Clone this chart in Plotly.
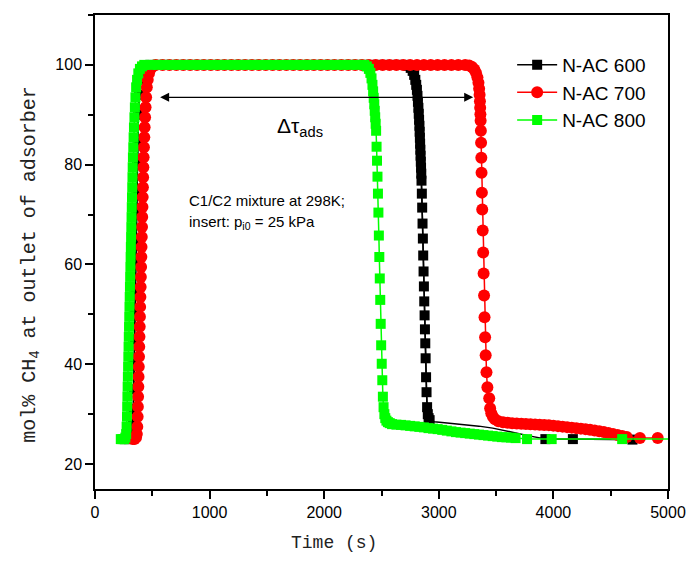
import plotly.graph_objects as go

# ---------------- data ----------------
# N-AC 600 (black squares)
t600 = [260, 295, 314, 324, 332, 336, 339, 342, 345, 348, 351, 354, 357, 360, 363, 367, 372, 378, 386, 398, 416, 444,
        480, 540, 600, 660, 720, 780, 840, 900, 960, 1020, 1080, 1140, 1200, 1260, 1320, 1380, 1440, 1500, 1560,
        1620, 1680, 1740, 1800, 1860, 1920, 1980, 2040, 2100, 2160, 2220, 2280, 2340, 2400, 2460, 2520, 2580,
        2640, 2700,
        2730, 2755, 2772, 2785, 2795, 2803, 2809, 2814, 2818, 2822, 2825, 2828, 2831, 2833, 2835, 2837, 2839,
        2841, 2843, 2845, 2847, 2849, 2852, 2855, 2858, 2861, 2864, 2867, 2870, 2873, 2876, 2879, 2882, 2885,
        2889, 2893, 2898, 2904, 2911, 2920,
        2960, 3050, 3150, 3250, 3350, 3470, 3560, 3680, 3800,
        3930, 4170, 4690]
v600 = [25, 25, 25.2, 26, 28, 31, 35, 40, 45, 50, 55, 60, 65, 70, 75, 80, 85, 90, 94, 97, 99, 99.8,
        100, 100, 100, 100, 100, 100, 100, 100, 100, 100, 100, 100, 100, 100, 100, 100, 100, 100, 100,
        100, 100, 100, 100, 100, 100, 100, 100, 100, 100, 100, 100, 100, 100, 100, 100, 100,
        100, 100,
        99.8, 99.4, 98.8, 98, 97, 96, 95, 93.8, 92.6, 91.4, 90.2, 89, 87.8, 86.6, 85.4, 84.2, 83,
        81.8, 80.6, 79.4, 78.2, 76.8, 74.2, 71.4, 68.2, 65.2, 61.8, 58.6, 55.6, 52.6, 49.8, 47, 44.2, 41.2,
        37.4, 34.4, 31.4, 30, 29.2, 28.8,
        28.5, 28.3, 28.1, 27.9, 27.6, 27.2, 26.8, 26.2, 25.6,
        25, 25, 24.9]

# N-AC 700 (red circles)
t700 = [330, 345, 358, 365, 369,
        372, 374, 376, 378, 380, 382, 384, 386, 388, 390, 392, 394, 396, 398, 400, 402, 404, 406, 408, 410,
        412, 414, 416, 418, 420, 422, 424,
        427, 430, 433, 437, 441, 446, 452, 460, 471, 485, 503,
        530, 590, 650, 710, 770, 830, 890, 950, 1010, 1070, 1130, 1190, 1250, 1310, 1370, 1430, 1490, 1550,
        1610, 1670, 1730, 1790, 1850, 1910, 1970, 2030, 2090, 2150, 2210, 2270, 2330, 2390, 2450, 2510, 2570,
        2630, 2690, 2750, 2810, 2870, 2930, 2990, 3050, 3110, 3170, 3230,
        3265, 3290, 3310, 3325, 3337, 3346, 3352, 3356, 3359, 3361, 3363, 3365, 3367, 3369, 3371, 3373, 3376,
        3379, 3383, 3387, 3391, 3395, 3399, 3404, 3409, 3416, 3424, 3440, 3448, 3458, 3472, 3490,
        3520, 3560, 3600, 3640, 3680, 3720, 3760, 3800, 3840, 3880, 3920, 3960, 4000, 4040, 4080, 4120, 4160,
        4200, 4240, 4280, 4320, 4360, 4400, 4440, 4480, 4520, 4560, 4600, 4640,
        4755, 4910]
v700 = [25, 25, 25.3, 26, 27.5,
        29.5, 31.5, 33.5, 35.5, 37.5, 39.5, 41.5, 43.5, 45.5, 47.5, 49.5, 51.5, 53.5, 55.5, 57.5, 59.5, 61.5,
        63.5, 65.5, 67.5, 69.5, 71.5, 73.5, 75.5, 77.5, 79.5, 81.5,
        83.5, 85.5, 87.5, 89.5, 91.5, 93.5, 95.5, 97, 98.3, 99.2, 99.7,
        100, 100, 100, 100, 100, 100, 100, 100, 100, 100, 100, 100, 100, 100, 100, 100, 100, 100,
        100, 100, 100, 100, 100, 100, 100, 100, 100, 100, 100, 100, 100, 100, 100, 100, 100,
        100, 100, 100, 100, 100, 100, 100, 100, 100, 100, 100,
        99.9, 99.6, 99.1, 98.4, 97.5, 96.4, 95.2, 94, 92.7, 91.4, 90.1, 88.8, 86.8, 84.4, 81.4, 78.4, 74.4,
        71, 66.8, 62.4, 58.2, 53.8, 49.4, 45.4, 41.8, 38.4, 35.4, 33.2, 31.2, 30.2, 29.5, 29.0,
        28.6, 28.4, 28.3, 28.2, 28.15, 28.1, 28.05, 28.0, 27.95, 27.9, 27.85, 27.8, 27.7, 27.6, 27.5, 27.4, 27.3,
        27.2, 27.1, 27.0, 26.85, 26.7, 26.55, 26.4, 26.2, 26.0, 25.8, 25.6, 25.4,
        25.2, 25.2]

# N-AC 800 (green squares)
t800 = [225, 240, 255, 265, 272, 276,
        279, 281, 283, 285, 287, 289, 291, 293, 295, 297, 299, 301, 303, 305, 307, 309, 311, 313, 315, 317,
        319, 321, 323, 325, 327, 329, 331,
        334, 337, 340, 344, 348, 353, 359, 367, 378, 392, 410,
        430, 490, 550, 610, 670, 730, 790, 850, 910, 970, 1030, 1090, 1150, 1210, 1270, 1330, 1390, 1450,
        1510, 1570, 1630, 1690, 1750, 1810, 1870, 1930, 1990, 2050, 2110, 2170, 2230, 2290, 2350,
        2372, 2390, 2403, 2413, 2421, 2427, 2432, 2437, 2441, 2445, 2449, 2453, 2457, 2461, 2465, 2469, 2473,
        2477, 2481, 2485, 2489, 2493, 2497, 2502, 2507, 2512, 2518, 2525, 2533, 2543, 2556, 2572, 2592,
        2630, 2670, 2710, 2750, 2790, 2830, 2870, 2910, 2950, 2990, 3030, 3070, 3110, 3150, 3190, 3230, 3270,
        3310, 3350, 3390, 3430, 3470, 3510, 3550, 3590, 3630, 3670,
        3770, 3985, 4600, 5150]
v800 = [25, 25, 25, 25.3, 26, 27.5,
        29.5, 31.5, 33.5, 35.5, 37.5, 39.5, 41.5, 43.5, 45.5, 47.5, 49.5, 51.5, 53.5, 55.5, 57.5, 59.5, 61.5,
        63.5, 65.5, 67.5, 69.5, 71.5, 73.5, 75.5, 77.5, 79.5, 81.5,
        83.5, 85.5, 87.5, 89.5, 91.5, 93.5, 95.5, 97, 98.3, 99.2, 99.7,
        100, 100, 100, 100, 100, 100, 100, 100, 100, 100, 100, 100, 100, 100, 100, 100, 100, 100,
        100, 100, 100, 100, 100, 100, 100, 100, 100, 100, 100, 100, 100, 100, 100,
        99.7, 99.2, 98.4, 97.3, 96, 94.7, 93.4, 92.1, 90.8, 89.5, 88.2, 86.8, 83.6, 80.8, 77.6, 74.2, 70.4,
        65.8, 61.5, 57.2, 52.9, 48.1, 43.8, 40.1, 36.8, 33.5, 31.4, 30, 29.2, 28.7, 28.4, 28.2, 28.0,
        27.9, 27.85, 27.75, 27.65, 27.55, 27.45, 27.35, 27.2, 27.1, 27.0, 26.85, 26.7, 26.55, 26.4, 26.3,
        26.2, 26.1, 26.0, 25.9, 25.8, 25.7, 25.6, 25.5, 25.4, 25.35, 25.3, 25.2,
        25, 25, 25, 25]

names = ["N-AC 600", "N-AC 700", "N-AC 800"]
x_ticks = [0, 1000, 2000, 3000, 4000, 5000]
y_ticks = [20, 40, 60, 80, 100]

# ---------------- figure ----------------
SANS = "Arial, Liberation Sans, sans-serif"
MONO = "Liberation Mono, Courier New, monospace"

# For N-AC 600 the slow tail after breakthrough is drawn as a bare line
# (symbols only on the breakthrough part and the last few samples).
xa, ya = [], []
for t, v in zip(t600, v600):
    if t <= 2925 or t >= 3900:
        xa.append(t)
        ya.append(v)
    elif xa and xa[-1] is not None:
        xa.append(None)
        ya.append(None)

fig = go.Figure()
fig.add_trace(go.Scatter(x=t600, y=v600, mode="lines", showlegend=False, hoverinfo="skip",
                         line=dict(color="#000000", width=1.5)))
fig.add_trace(go.Scatter(x=xa, y=ya, mode="lines+markers", name=names[0], connectgaps=False,
                         line=dict(color="#000000", width=1.5),
                         marker=dict(symbol="square", size=10, color="#000000")))
fig.add_trace(go.Scatter(x=t700, y=v700, mode="lines+markers", name=names[1],
                         line=dict(color="#ff0000", width=1.5),
                         marker=dict(symbol="circle", size=12, color="#ff0000")))
fig.add_trace(go.Scatter(x=t800, y=v800, mode="lines+markers", name=names[2],
                         line=dict(color="#00ff00", width=1.5),
                         marker=dict(symbol="square", size=10, color="#00ff00")))

axis_common = dict(showline=True, linecolor="#000000", linewidth=1.5, mirror=True,
                   ticks="outside", ticklen=8, tickwidth=1.5, tickcolor="#000000",
                   showgrid=False, zeroline=False,
                   tickfont=dict(family=SANS, size=16, color="#000000"))

fig.update_layout(
    width=698, height=562,
    margin=dict(l=95, r=30, t=15, b=73),
    paper_bgcolor="white", plot_bgcolor="white",
    font=dict(family=SANS, color="#000000"),
    xaxis=dict(range=[0, 5000], tickvals=x_ticks,
               minor=dict(dtick=500, tick0=0, ticks="outside", ticklen=5, tickwidth=1.5, tickcolor="#000000"),
               **axis_common),
    yaxis=dict(range=[15, 110], tickvals=y_ticks,
               minor=dict(dtick=10, tick0=0, ticks="outside", ticklen=5, tickwidth=1.5, tickcolor="#000000"),
               **axis_common),
    legend=dict(x=0.728, y=0.935, xanchor="left", yanchor="top",
                bgcolor="rgba(0,0,0,0)", font=dict(family=SANS, size=19, color="#000000"),
                tracegroupgap=0, itemwidth=40),
    showlegend=True,
)

# axis titles (placed as in the reference, slightly off-centre)
fig.add_annotation(x=0.417, y=0, xref="paper", yref="paper", yshift=-54, yanchor="middle",
                   showarrow=False, text="Time (s)",
                   font=dict(family=MONO, size=18, color="#222222"))
fig.add_annotation(x=-0.112, y=0.4726, xref="paper", yref="paper", xanchor="center", yanchor="middle",
                   textangle=-90, showarrow=False,
                   text="mol% CH<sub>4</sub> at outlet of adsorber",
                   font=dict(family=MONO, size=20, color="#222222"))

# double-headed arrow marking the adsorption time span
fig.add_annotation(x=3300, y=93.5, ax=555, ay=93.5, xref="x", yref="y", axref="x", ayref="y",
                   text="", showarrow=True, arrowside="end+start", arrowhead=2,
                   arrowsize=1.5, arrowwidth=1.2, arrowcolor="#000000")
fig.add_annotation(x=1790, y=87.5, xref="x", yref="y", showarrow=False,
                   text="Δτ<sub>ads</sub>", font=dict(family=SANS, size=21, color="#000000"))
fig.add_annotation(x=803, y=72.8, xref="x", yref="y", xanchor="left", showarrow=False,
                   text="C1/C2 mixture at 298K;", font=dict(family=SANS, size=15, color="#000000"))
fig.add_annotation(x=803, y=68.4, xref="x", yref="y", xanchor="left", showarrow=False,
                   text="insert: p<sub>i0</sub> = 25 kPa", font=dict(family=SANS, size=15, color="#000000"))

fig.write_html("out.html")
